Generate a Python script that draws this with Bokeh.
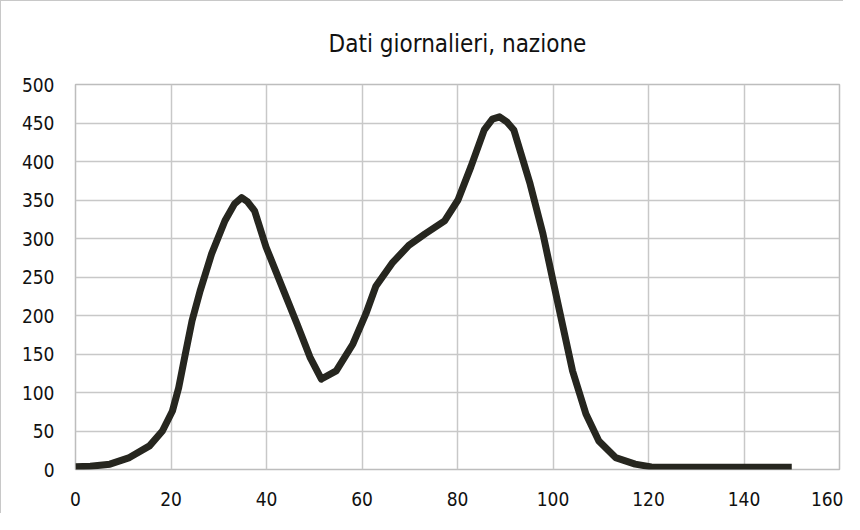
from bokeh.plotting import figure
from bokeh.models import Range1d, FixedTicker
from bokeh.embed import file_html
from bokeh.resources import INLINE

# Data
giorni = [0, 3.1, 7.2, 11.3, 15.5, 18.2, 20.3, 21.6, 23.0, 24.4, 26.1, 28.5, 31.3,
          33.3, 34.8, 36.0, 37.5, 39.9, 43.6, 46.4, 49.1, 51.5, 54.6, 58.1, 60.8, 62.9,
          66.3, 69.8, 73.2, 77.3, 80.1, 82.8, 85.6, 87.3, 88.8, 90.4, 91.8, 95.2, 97.9, 100.0,
          102.1, 104.1, 106.9, 109.6, 113.1, 117.2, 120.6, 130, 140, 150]
casi = [3.5, 4.3, 6.9, 15.5, 30.7, 50, 76, 106, 150, 193, 232, 280, 323,
        345, 353, 348, 336, 289, 232, 189, 146, 117.5, 128, 163, 202, 238,
        268, 291, 306, 323, 350, 393, 441, 455, 458, 451, 441, 371, 306, 245,
        185, 128, 72, 37, 15.5, 7, 3.4, 3, 3, 3]
x_ticks = [0, 20, 40, 60, 80, 100, 120, 140, 160]
y_ticks = [0, 50, 100, 150, 200, 250, 300, 350, 400, 450, 500]
titolo = "Dati giornalieri, nazione"

FONT = "'Liberation Sans Narrow', 'DejaVu Sans Condensed', 'Roboto Condensed', Roboto, sans-serif"

p = figure(width=843, height=513, output_backend="svg", toolbar_location=None,
           x_range=Range1d(0, 160), y_range=Range1d(0, 500),
           min_border_left=74, min_border_right=5, min_border_top=83, min_border_bottom=45,
           title=titolo)
p.styles = {"border-left": "1px solid #c8c8c8", "border-top": "1px solid #c8c8c8"}

p.title.text_font = FONT
p.title.text_font_size = "24px"
p.title.text_font_style = "normal"
p.title.text_color = "#111111"
p.title.align = "center"
p.title.standoff = 53

p.outline_line_color = "#bdbdbd"
p.outline_line_width = 1.5

for ax in (p.xaxis[0], p.yaxis[0]):
    ax.axis_line_color = None
    ax.major_tick_line_color = None
    ax.minor_tick_line_color = None
    ax.major_label_text_font = FONT
    ax.major_label_text_font_size = "19px"
    ax.major_label_text_color = "#111111"

p.xaxis.ticker = FixedTicker(ticks=x_ticks)
p.yaxis.ticker = FixedTicker(ticks=y_ticks)
p.xaxis.major_label_standoff = 16
p.yaxis.major_label_standoff = 15

p.xgrid.ticker = FixedTicker(ticks=x_ticks)
p.ygrid.ticker = FixedTicker(ticks=y_ticks)
p.grid.grid_line_color = "#c8c8c8"
p.grid.grid_line_width = 1.5

p.line(giorni, casi, line_color="#26261f", line_width=7, line_join="round", line_cap="butt")

open("out.html", "w").write(file_html(p, INLINE))
